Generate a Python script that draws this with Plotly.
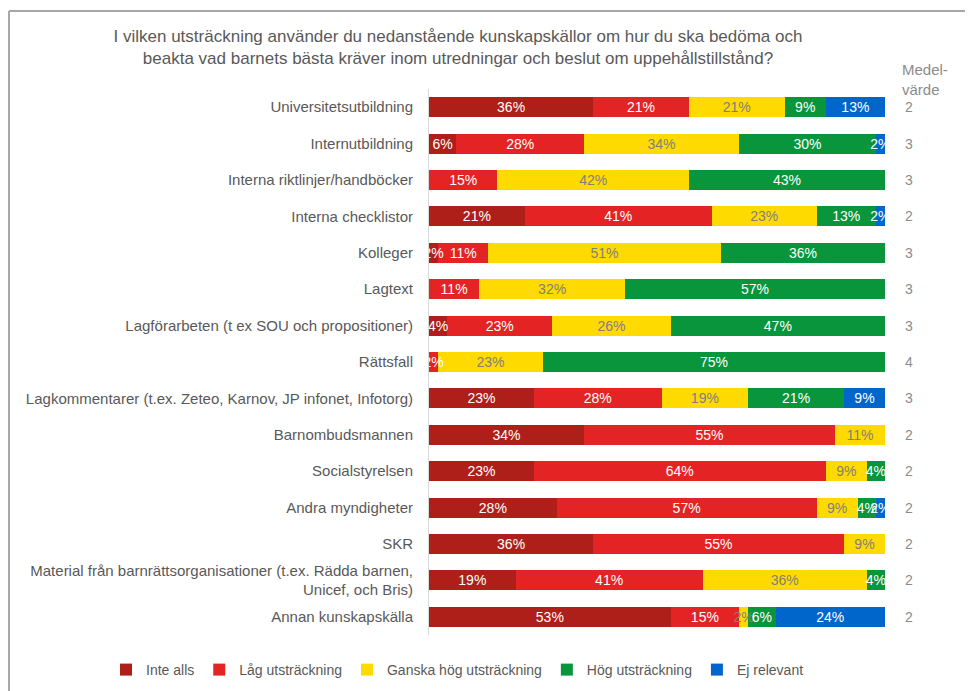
import plotly.graph_objects as go

categories = [
    "Universitetsutbildning",
    "Internutbildning",
    "Interna riktlinjer/handböcker",
    "Interna checklistor",
    "Kolleger",
    "Lagtext",
    "Lagförarbeten (t ex SOU och propositioner)",
    "Rättsfall",
    "Lagkommentarer (t.ex. Zeteo, Karnov, JP infonet, Infotorg)",
    "Barnombudsmannen",
    "Socialstyrelsen",
    "Andra myndigheter",
    "SKR",
    "Material från barnrättsorganisationer (t.ex. Rädda barnen,<br>Unicef, och Bris)",
    "Annan kunskapskälla",
]

inte_alls = [36, 6, 0, 21, 2, 0, 4, 0, 23, 34, 23, 28, 36, 19, 53]
lag_utstr = [21, 28, 15, 41, 11, 11, 23, 2, 28, 55, 64, 57, 55, 41, 15]
ganska_hog = [21, 34, 42, 23, 51, 32, 26, 23, 19, 11, 9, 9, 9, 36, 2]
hog_utstr = [9, 30, 43, 13, 36, 57, 47, 75, 21, 0, 4, 4, 0, 4, 6]
ej_relevant = [13, 2, 0, 2, 0, 0, 0, 0, 9, 0, 0, 2, 0, 0, 24]
medelvarde = [2, 3, 3, 2, 3, 3, 3, 4, 3, 2, 2, 2, 2, 2, 2]

series_names = ["Inte alls", "Låg utsträckning", "Ganska hög utsträckning",
                "Hög utsträckning", "Ej relevant"]
series_values = [inte_alls, lag_utstr, ganska_hog, hog_utstr, ej_relevant]
colors = ["#AE1F1A", "#E42424", "#FFDA00", "#08953B", "#0066CC"]
text_colors = ["white", "white", "#7F7F7F", "white", "white"]

fig = go.Figure()
# coloured bars
for name, vals, col in zip(series_names, series_values, colors):
    fig.add_trace(go.Bar(
        y=categories, x=vals, name=name, orientation="h",
        marker=dict(color=col, line=dict(width=0)),
        hoverinfo="skip",
    ))
# labels layer on an overlaying axis so that labels are drawn above all bars
for name, vals, tcol in zip(series_names, series_values, text_colors):
    fig.add_trace(go.Bar(
        y=categories, x=vals, name=name, orientation="h", yaxis="y2",
        marker=dict(color="rgba(0,0,0,0)", line=dict(width=0)),
        text=[f"{v}%" if v > 0 else "" for v in vals],
        textposition="inside", insidetextanchor="middle", textangle=0,
        constraintext="none", showlegend=False,
        textfont=dict(color=tcol, size=14, family="Liberation Sans"),
        hoverinfo="skip",
    ))

for cat, m in zip(categories, medelvarde):
    fig.add_annotation(x=1.039, xref="paper", y=cat, yref="y", text=str(m),
                       showarrow=False, xanchor="left",
                       font=dict(size=14, color="#8C8C8C", family="Liberation Sans"))

fig.add_annotation(x=1.032, xref="paper", y=1.018, yref="paper",
                   text="Medel-<br>värde", showarrow=False, xanchor="left", yanchor="middle",
                   align="left", font=dict(size=15, color="#8C8C8C", family="Liberation Sans"))

# frame lines
fig.add_shape(type="line", xref="paper", yref="paper", x0=-0.921, x1=-0.921, y0=1.1429, y1=-0.2,
              line=dict(color="#A6A6A6", width=2))
fig.add_shape(type="line", xref="paper", yref="paper", x0=-0.921, x1=1.3, y0=1.1429, y1=1.1429,
              line=dict(color="#A6A6A6", width=2))

fig.update_layout(
    width=965, height=683,
    barmode="stack", bargap=0.45,
    plot_bgcolor="white", paper_bgcolor="white",
    margin=dict(l=421, r=88, t=81, b=56, autoexpand=False),
    font=dict(family="Liberation Sans", color="#595959"),
    uniformtext=dict(minsize=14, mode="show"),
    title=dict(
        text="I vilken utsträckning använder du nedanstående kunskapskällor om hur du ska bedöma och<br>beakta vad barnets bästa kräver inom utredningar och beslut om uppehållstillstånd?",
        x=450 / 965, xref="container", xanchor="center",
        y=1 - 34 / 683, yref="container", yanchor="middle",
        font=dict(size=17, color="#595959", family="Liberation Sans"),
    ),
    xaxis=dict(range=[0, 100], visible=False, fixedrange=True),
    yaxis=dict(autorange="reversed", showline=True, linecolor="#D9D9D9", linewidth=1,
               ticks="", tickfont=dict(size=15, color="#595959"), ticklabelstandoff=12,
               showgrid=False, categoryorder="array", categoryarray=categories),
    yaxis2=dict(overlaying="y", autorange="reversed", visible=False, showgrid=False,
                categoryorder="array", categoryarray=categories),
    legend=dict(orientation="h", xref="paper", x=(106 - 429) / 456, xanchor="left",
                yref="paper", y=(635 - 670) / 546, yanchor="middle",
                font=dict(size=14, color="#595959"), traceorder="normal",
                itemwidth=30),
    showlegend=True,
)

fig.write_html("out.html")
